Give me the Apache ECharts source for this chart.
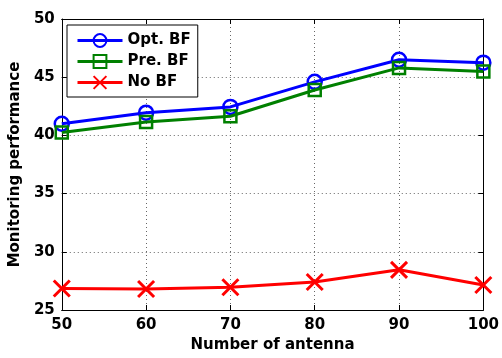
<!DOCTYPE html>
<html>
<head>
<meta charset="utf-8">
<script src="https://cdn.jsdelivr.net/npm/echarts@6/dist/echarts.min.js"></script>
<style>
  html, body { margin: 0; padding: 0; background: #fff; }
  #chart { width: 502px; height: 358px; }
</style>
</head>
<body>
<div id="chart"></div>
<script>
const antennas = [50, 60, 70, 80, 90, 100];
const optBF = [41.0, 41.95, 42.45, 44.6, 46.5, 46.25];
const preBF = [40.25, 41.15, 41.65, 43.9, 45.8, 45.5];
const noBF = [26.85, 26.8, 26.95, 27.4, 28.45, 27.15];

const font = "'DejaVu Sans', Arial, sans-serif";
const pairs = (ys) => antennas.map((x, i) => [x, ys[i]]);

const chart = echarts.init(document.getElementById("chart"));

const dotted = { show: true, lineStyle: { color: "#666", type: [1, 3], width: 1 } };
const tickStyle = { inside: true, length: 5, lineStyle: { color: "#000" } };
const boldText = { fontFamily: font, fontWeight: "bold", fontSize: 15, color: "#000" };

chart.setOption({
  backgroundColor: "#fff",
  animation: false,
  grid: { left: 60, right: 16, top: 19, bottom: 42 },
  legend: {
    orient: "vertical",
    left: 67,
    top: 25,
    padding: [8, 7, 7, 9],
    itemWidth: 45,
    itemHeight: 16,
    itemGap: 6,
    backgroundColor: "#fff",
    borderColor: "#000",
    borderWidth: 1,
    borderRadius: 0,
    lineStyle: { width: 3 },
    textStyle: boldText,
    data: ["Opt. BF", "Pre. BF", "No BF"],
  },
  xAxis: [
    {
      type: "value",
      min: 50,
      max: 100,
      interval: 10,
      name: "Number of antenna",
      nameLocation: "middle",
      nameGap: 28,
      nameTextStyle: boldText,
      axisLine: { lineStyle: { color: "#000", width: 1 } },
      axisTick: tickStyle,
      axisLabel: Object.assign({ margin: 8 }, boldText),
      splitLine: dotted,
    },
    {
      type: "value",
      position: "top",
      min: 50,
      max: 100,
      interval: 10,
      axisLine: { show: true, lineStyle: { color: "#000", width: 1 } },
      axisTick: tickStyle,
      axisLabel: { show: false },
      splitLine: { show: false },
    },
  ],
  yAxis: [
    {
      type: "value",
      min: 25,
      max: 50,
      interval: 5,
      name: "Monitoring performance",
      nameLocation: "middle",
      nameGap: 31,
      nameTextStyle: boldText,
      axisLine: { show: true, lineStyle: { color: "#000", width: 1 } },
      axisTick: tickStyle,
      axisLabel: Object.assign({ margin: 7 }, boldText),
      splitLine: dotted,
    },
    {
      type: "value",
      position: "right",
      min: 25,
      max: 50,
      interval: 5,
      axisLine: { show: true, lineStyle: { color: "#000", width: 1 } },
      axisTick: tickStyle,
      axisLabel: { show: false },
      splitLine: { show: false },
    },
  ],
  series: [
    {
      name: "Opt. BF",
      type: "line",
      data: pairs(optBF),
      symbol: "circle",
      symbolSize: 14,
      lineStyle: { color: "#0000ff", width: 3 },
      itemStyle: { color: "rgba(255,255,255,0)", borderColor: "#0000ff", borderWidth: 2.5 },
      z: 3,
    },
    {
      name: "Pre. BF",
      type: "line",
      data: pairs(preBF),
      symbol: "rect",
      symbolSize: 12,
      lineStyle: { color: "#008000", width: 3 },
      itemStyle: { color: "rgba(255,255,255,0)", borderColor: "#008000", borderWidth: 2.5 },
      z: 4,
    },
    {
      name: "No BF",
      type: "line",
      data: pairs(noBF),
      symbol: "path://M0,0L20,20M20,0L0,20",
      symbolSize: 16,
      lineStyle: { color: "#ff0000", width: 3 },
      itemStyle: { color: "#ff0000", borderColor: "#ff0000", borderWidth: 3 },
      z: 5,
    },
  ],
});
</script>
</body>
</html>
